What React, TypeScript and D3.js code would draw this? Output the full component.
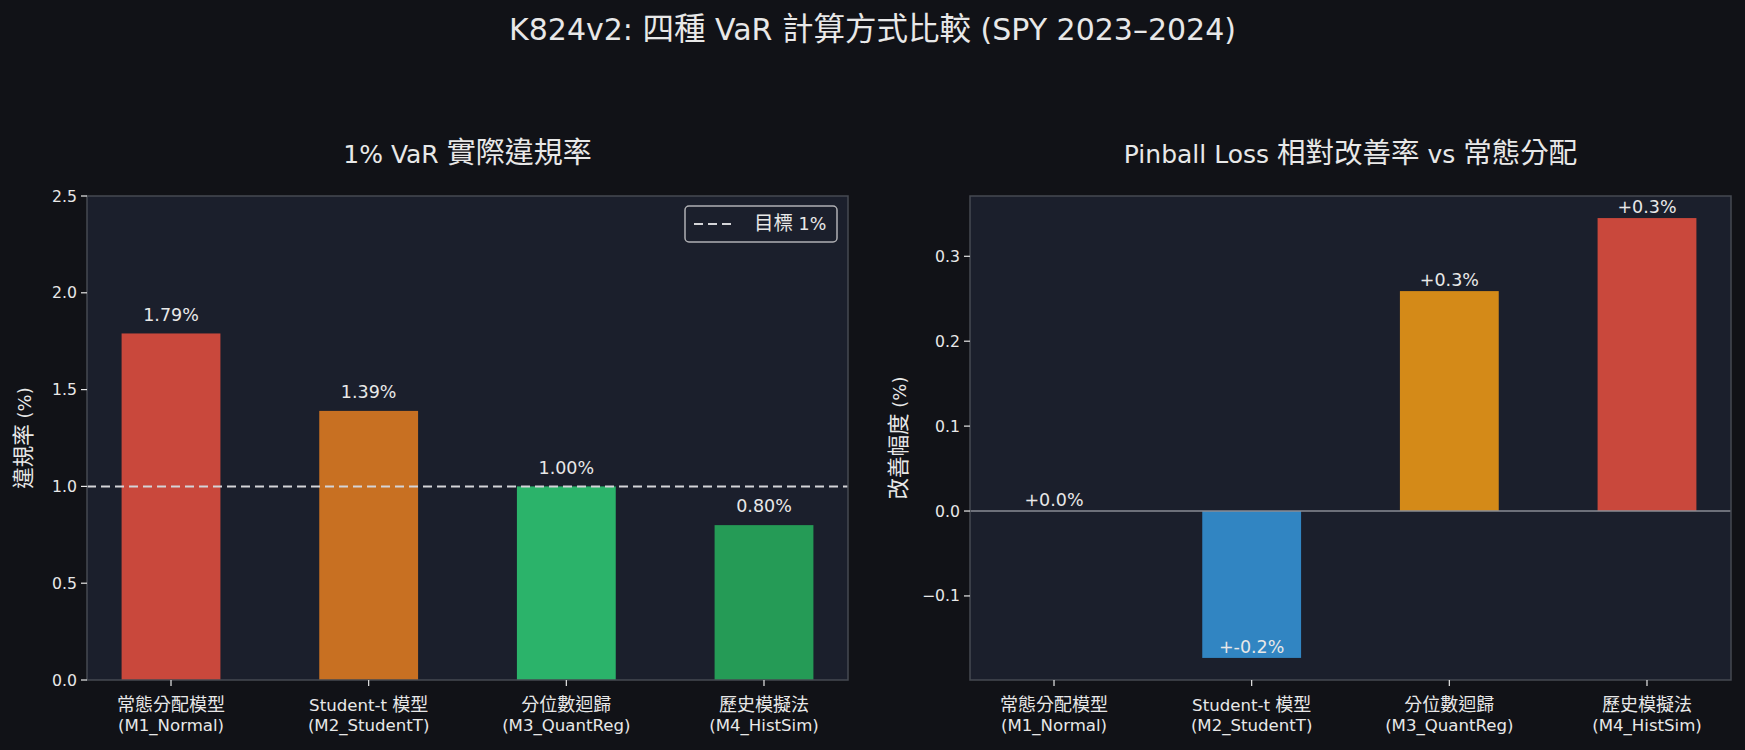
import * as React from 'react';
import * as d3 from 'd3';

// categories
const models = ['常態分配模型', 'Student-t 模型', '分位數迴歸', '歷史模擬法'];
const modelCodes = ['(M1_Normal)', '(M2_StudentT)', '(M3_QuantReg)', '(M4_HistSim)'];

// left panel: 1% VaR violation rate (%)
const violationRates = [1.79, 1.39, 1.0, 0.8];
const violationColors = ['#c9483c', '#c87022', '#2bb36a', '#259b56'];
const leftTicks = [0, 0.5, 1.0, 1.5, 2.0, 2.5];
const targetRate = 1.0;

// right panel: pinball loss improvement vs normal (%)
const improvements = [0.0, -0.173, 0.259, 0.345];
const improvementColors = ['#c9483c', '#3185c2', '#d48a18', '#c9483c'];
const rightTicks = [-0.1, 0, 0.1, 0.2, 0.3];

const W = 1745;
const H = 750;
const FONT = '"DejaVu Sans", "Noto Sans CJK TC", sans-serif';
const FIG_BG = '#111217';
const AX_BG = '#1b1f2c';
const SPINE = '#464a52';
const TXT = '#e8e8e8';

const top = 196;
const bottom = 680;
const leftPanel = { x0: 87, x1: 848 };
const rightPanel = { x0: 970, x1: 1731 };

const fmtMinus = (s: string) => s.replace('-', '\u2212');

// latin and CJK runs get their own sizes
const CJK = /[\u3000-\u9fff\uff00-\uffef]+/g;
const Mixed = ({ text, size, cjk }: { text: string; size: number; cjk: number }) => {
  const parts: { s: string; c: boolean }[] = [];
  let last = 0;
  text.replace(CJK, (m, idx: number) => {
    if (idx > last) parts.push({ s: text.slice(last, idx), c: false });
    parts.push({ s: m, c: true });
    last = idx + m.length;
    return m;
  });
  if (last < text.length) parts.push({ s: text.slice(last), c: false });
  return (
    <>
      {parts.map((p, i) => (
        <tspan key={i} fontSize={p.c ? cjk : size}
          fontFamily={p.c ? '"Noto Sans CJK TC"' : undefined}>{p.s}</tspan>
      ))}
    </>
  );
};

const xScale = (p: { x0: number; x1: number }) =>
  d3.scaleLinear().domain([-0.425, 3.425]).range([p.x0, p.x1]);

const XLabels = ({ x }: { x: d3.ScaleLinear<number, number> }) => (
  <g>
    {models.map((m, i) => (
      <g key={m} transform={`translate(${x(i)},${bottom})`}>
        <line y2={6} stroke={TXT} strokeWidth={1.2} />
        <text y={31} textAnchor="middle" fill={TXT}><Mixed text={m} size={16.6} cjk={18} /></text>
        <text y={51} textAnchor="middle" fill={TXT} fontSize={16.6}>{modelCodes[i]}</text>
      </g>
    ))}
  </g>
);

const LeftChart = () => {
  const x = xScale(leftPanel);
  const y = d3.scaleLinear().domain([0, 2.5]).range([bottom, top]);
  const bw = x(0.5) - x(0);
  return (
    <g>
      <rect x={leftPanel.x0} y={top} width={leftPanel.x1 - leftPanel.x0} height={bottom - top} fill={AX_BG} />
      {violationRates.map((v, i) => (
        <g key={i}>
          <rect x={x(i) - bw / 2} y={y(v)} width={bw} height={y(0) - y(v)} fill={violationColors[i]} />
          <text x={x(i)} y={y(v + 0.05) - 3} textAnchor="middle" fill={TXT} fontSize={17.5}>
            {v.toFixed(2)}%
          </text>
        </g>
      ))}
      <line x1={leftPanel.x0} x2={leftPanel.x1} y1={y(targetRate)} y2={y(targetRate)}
        stroke="#d4d4d8" strokeWidth={2} strokeDasharray="9,5" />
      <rect x={leftPanel.x0} y={top} width={leftPanel.x1 - leftPanel.x0} height={bottom - top}
        fill="none" stroke={SPINE} strokeWidth={1.5} />
      {leftTicks.map((t) => (
        <g key={t} transform={`translate(${leftPanel.x0},${y(t)})`}>
          <line x2={-6} stroke={TXT} strokeWidth={1.2} />
          <text x={-10} dy="0.35em" textAnchor="end" fill={TXT} fontSize={15.7}>{t.toFixed(1)}</text>
        </g>
      ))}
      <XLabels x={x} />
      <text transform={`translate(25,${(top + bottom) / 2}) rotate(-90)`} textAnchor="middle"
        dy="0.35em" fill={TXT}><Mixed text="違規率 (%)" size={18} cjk={21.5} /></text>
      <text x={(leftPanel.x0 + leftPanel.x1) / 2} y={163} textAnchor="middle" fill={TXT}>
        <Mixed text="1% VaR  實際違規率" size={25} cjk={29} />
      </text>
      {/* legend */}
      <g transform="translate(685,206)">
        <rect width={152} height={36} rx={4} fill={AX_BG} stroke="#b0b0b4" strokeWidth={1.5} />
        <line x1={9} x2={51} y1={18} y2={18} stroke="#d4d4d8" strokeWidth={2} strokeDasharray="9,5" />
        <text x={69} y={18} dy="0.35em" fill={TXT}><Mixed text="目標 1%" size={17.5} cjk={19.5} /></text>
      </g>
    </g>
  );
};

const RightChart = () => {
  const x = xScale(rightPanel);
  const y = d3.scaleLinear().domain([-0.199, 0.371]).range([bottom, top]);
  const bw = x(0.5) - x(0);
  return (
    <g>
      <rect x={rightPanel.x0} y={top} width={rightPanel.x1 - rightPanel.x0} height={bottom - top} fill={AX_BG} />
      {improvements.map((v, i) => (
        <rect key={i} x={x(i) - bw / 2} y={y(Math.max(v, 0))} width={bw}
          height={Math.abs(y(v) - y(0))} fill={improvementColors[i]} />
      ))}
      <line x1={rightPanel.x0} x2={rightPanel.x1} y1={y(0)} y2={y(0)} stroke="#8a8d94" strokeWidth={1.5} />
      {improvements.map((v, i) => (
        <text key={i} x={x(i)} y={y(v) - 5} textAnchor="middle" fill={TXT} fontSize={17.5}>
          {`+${v.toFixed(1)}%`}
        </text>
      ))}
      <rect x={rightPanel.x0} y={top} width={rightPanel.x1 - rightPanel.x0} height={bottom - top}
        fill="none" stroke={SPINE} strokeWidth={1.5} />
      {rightTicks.map((t) => (
        <g key={t} transform={`translate(${rightPanel.x0},${y(t)})`}>
          <line x2={-6} stroke={TXT} strokeWidth={1.2} />
          <text x={-10} dy="0.35em" textAnchor="end" fill={TXT} fontSize={15.7}>{fmtMinus(t.toFixed(1))}</text>
        </g>
      ))}
      <XLabels x={x} />
      <text transform={`translate(900,${(top + bottom) / 2}) rotate(-90)`} textAnchor="middle"
        dy="0.35em" fill={TXT}><Mixed text="改善幅度 (%)" size={18} cjk={21.5} /></text>
      <text x={(rightPanel.x0 + rightPanel.x1) / 2} y={163} textAnchor="middle" fill={TXT}>
        <Mixed text="Pinball Loss 相對改善率 vs 常態分配" size={25} cjk={28.5} />
      </text>
    </g>
  );
};

export default function App() {
  return (
    <svg width={W} height={H} style={{ position: 'absolute', left: 0, top: 0, display: 'block' }}
      fontFamily={FONT}>
      <rect width={W} height={H} fill={FIG_BG} />
      <text x={W / 2} y={40} textAnchor="middle" fill={TXT}>
        <Mixed text="K824v2: 四種 VaR 計算方式比較 (SPY 2023–2024)" size={30} cjk={31.5} />
      </text>
      <LeftChart />
      <RightChart />
    </svg>
  );
}
